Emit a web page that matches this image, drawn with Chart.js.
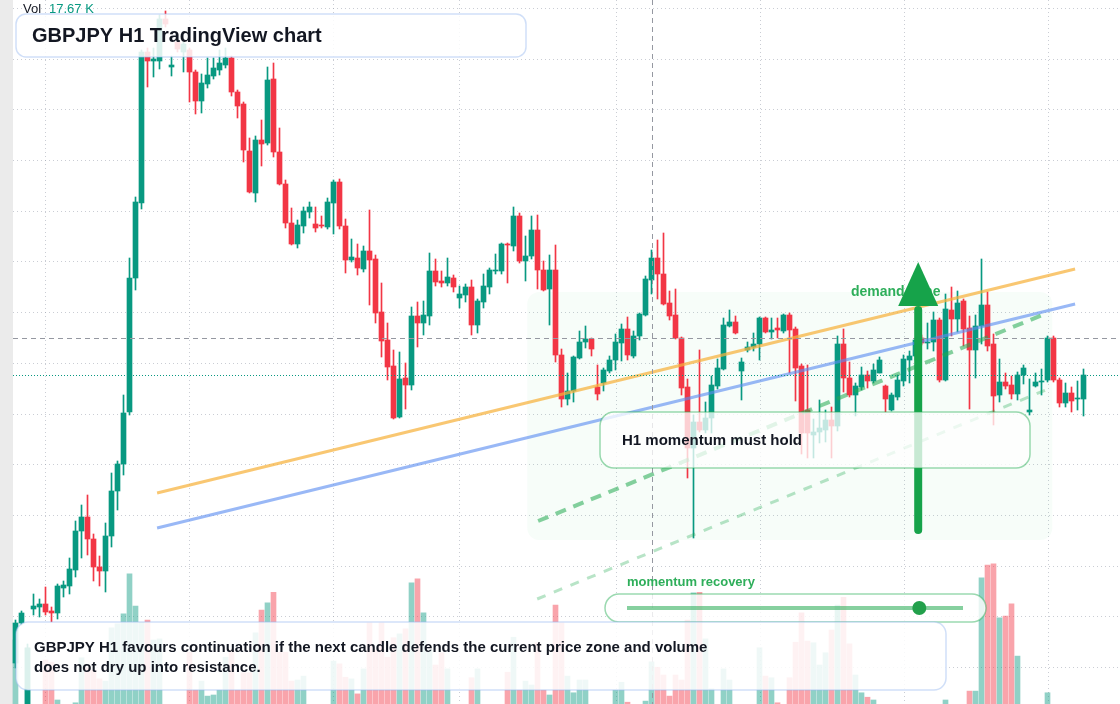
<!DOCTYPE html>
<html>
<head>
<meta charset="utf-8">
<title>GBPJPY H1 TradingView chart</title>
<script src="https://cdn.jsdelivr.net/npm/chart.js@4.4.1/dist/chart.umd.min.js"></script>
<style>
  html, body { margin: 0; padding: 0; background: #ffffff; }
  #wrap { position: relative; width: 1120px; height: 704px; overflow: hidden; }
</style>
</head>
<body>
<div id="wrap"><canvas id="gbpjpy" width="1120" height="704"></canvas></div>
<script>
"use strict";

// H1 candles, oldest first
var openPrices = [
  198.37, 198.77, 197.88, 198.91, 198.93, 198.96, 198.89, 198.87, 199.12, 199.14,
  199.30, 199.69, 199.83, 199.61, 199.33, 199.29, 199.64, 200.09, 200.36, 200.88,
  202.22, 202.97, 204.48, 204.39, 204.39, 204.81, 204.33, 204.58, 204.48, 204.50,
  204.28, 203.99, 204.16, 204.24, 204.30, 204.35, 204.42, 204.08, 203.96, 203.49,
  203.07, 203.60, 203.57, 204.21, 203.48, 203.16, 202.77, 202.56, 202.74, 202.88,
  202.76, 202.75, 202.73, 202.97, 203.18, 202.74, 202.40, 202.42, 202.31, 202.49,
  202.41, 201.88, 201.60, 201.34, 200.83, 201.22, 201.15, 201.84, 201.77, 201.84,
  202.29, 202.19, 202.17, 202.22, 202.02, 202.05, 202.13, 201.75, 201.98, 202.13,
  202.29, 202.29, 202.56, 202.54, 202.84, 202.39, 202.44, 202.70, 202.30, 202.11,
  202.30, 201.45, 201.01, 201.09, 201.42, 201.58, 201.61, 201.13, 201.17, 201.29,
  201.40, 201.57, 201.71, 201.44, 201.64, 201.85, 202.20, 202.42, 202.26, 201.97,
  201.85, 201.62, 201.13, 200.52, 200.78, 200.70, 200.82, 201.14, 201.31, 201.74,
  201.78, 201.29, 201.50, 201.53, 201.56, 201.82, 201.68, 201.72, 201.69, 201.85,
  201.71, 201.34, 200.90, 200.65, 200.68, 200.70, 200.80, 200.74, 201.56, 201.22,
  201.05, 201.13, 201.25, 201.19, 201.27, 201.14, 200.90, 201.03, 201.19, 201.40,
  201.44, 201.62, 201.57, 201.58, 201.80, 201.20, 201.90, 201.81, 201.99, 201.72,
  201.50, 201.74, 201.95, 201.56, 201.05, 201.18, 201.15, 201.06, 201.25, 200.88,
  201.14, 201.18, 201.20, 201.62, 201.20, 200.97, 201.07, 201.01, 201.01
];
var highPrices = [
  198.80, 198.89, 198.56, 199.06, 199.01, 199.13, 198.93, 199.16, 199.19, 199.42,
  199.79, 199.95, 200.05, 199.66, 199.44, 199.77, 200.27, 200.39, 201.05, 202.42,
  203.03, 204.50, 204.52, 204.52, 204.85, 204.89, 204.44, 204.60, 204.60, 204.52,
  204.30, 204.26, 204.42, 204.42, 204.50, 204.52, 204.44, 204.10, 203.98, 203.62,
  203.64, 203.80, 204.33, 204.37, 203.72, 203.20, 202.92, 202.80, 202.93, 202.98,
  202.93, 202.84, 203.02, 203.20, 203.21, 202.81, 202.61, 202.56, 202.54, 202.90,
  202.45, 202.17, 201.77, 201.50, 201.48, 201.37, 201.93, 201.98, 201.99, 202.47,
  202.41, 202.29, 202.42, 202.25, 202.14, 202.16, 202.20, 202.01, 202.26, 202.32,
  202.46, 202.57, 202.57, 202.93, 202.87, 202.64, 202.84, 202.85, 202.39, 202.45,
  202.55, 201.51, 201.27, 201.44, 201.69, 201.74, 201.62, 201.35, 201.32, 201.44,
  201.66, 201.76, 201.83, 201.69, 201.87, 202.24, 202.50, 202.60, 202.67, 202.09,
  202.11, 201.63, 201.21, 200.85, 201.50, 200.98, 201.24, 201.41, 201.82, 201.90,
  201.84, 201.42, 201.58, 201.67, 201.83, 201.83, 201.82, 201.82, 201.86, 201.87,
  201.73, 201.36, 201.35, 200.81, 201.00, 200.90, 200.93, 201.64, 201.71, 201.38,
  201.17, 201.33, 201.29, 201.36, 201.43, 201.15, 201.07, 201.25, 201.45, 201.49,
  201.62, 201.65, 201.77, 201.88, 201.82, 202.06, 202.13, 202.09, 202.01, 201.84,
  201.85, 202.41, 202.08, 201.66, 201.41, 201.27, 201.24, 201.28, 201.35, 201.21,
  201.27, 201.31, 201.64, 201.64, 201.22, 201.17, 201.13, 201.19, 201.31
];
var lowPrices = [
  198.32, 198.75, 197.84, 198.85, 198.83, 198.85, 198.78, 198.81, 199.03, 199.06,
  199.23, 199.42, 199.45, 199.19, 199.14, 199.08, 199.53, 199.90, 200.25, 200.85,
  202.10, 202.91, 204.13, 204.23, 204.31, 204.73, 204.24, 204.48, 204.28, 203.98,
  203.86, 203.87, 204.12, 204.21, 204.25, 204.32, 204.04, 203.82, 203.38, 203.07,
  202.98, 203.34, 203.55, 203.43, 203.15, 202.72, 202.55, 202.52, 202.67, 202.82,
  202.68, 202.72, 202.71, 202.66, 202.71, 202.27, 202.38, 202.25, 202.28, 201.95,
  201.77, 201.43, 201.20, 200.81, 200.82, 200.91, 201.10, 201.53, 201.65, 201.75,
  202.14, 202.13, 202.14, 202.08, 201.92, 201.98, 201.65, 201.67, 201.92, 202.06,
  202.26, 202.26, 202.17, 202.49, 202.37, 202.19, 202.41, 202.11, 202.09, 201.75,
  201.38, 200.93, 200.95, 200.98, 201.41, 201.52, 201.44, 201.00, 201.09, 201.27,
  201.30, 201.39, 201.40, 201.42, 201.60, 201.84, 202.06, 202.01, 201.95, 201.80,
  201.61, 201.05, 200.22, 199.62, 200.68, 200.67, 200.67, 201.11, 201.30, 201.73,
  201.66, 201.00, 201.48, 201.49, 201.40, 201.67, 201.61, 201.62, 201.67, 201.27,
  200.99, 200.46, 200.42, 200.42, 200.57, 200.58, 200.42, 200.69, 201.08, 201.03,
  200.84, 201.10, 201.12, 201.17, 201.27, 200.88, 200.89, 201.00, 201.14, 201.17,
  201.40, 201.55, 201.51, 201.49, 201.18, 201.19, 201.64, 201.68, 201.54, 200.91,
  201.22, 201.56, 201.49, 200.75, 200.98, 201.11, 201.01, 201.00, 201.16, 200.85,
  201.13, 201.05, 201.18, 201.18, 200.93, 200.93, 200.88, 200.90, 200.84
];
var closePrices = [
  198.77, 198.87, 198.52, 198.94, 198.96, 198.88, 198.87, 199.14, 199.15, 199.31,
  199.69, 199.83, 199.61, 199.33, 199.29, 199.64, 200.09, 200.36, 200.87, 202.22,
  202.98, 204.48, 204.39, 204.41, 204.81, 204.76, 204.35, 204.51, 204.56, 204.28,
  203.99, 204.17, 204.25, 204.32, 204.37, 204.42, 204.08, 203.94, 203.50, 203.08,
  203.60, 203.56, 204.20, 203.48, 203.16, 202.77, 202.56, 202.75, 202.89, 202.93,
  202.72, 202.74, 202.98, 203.18, 202.74, 202.40, 202.43, 202.32, 202.49, 202.40,
  201.87, 201.59, 201.33, 200.82, 201.21, 201.15, 201.84, 201.77, 201.85, 202.29,
  202.18, 202.17, 202.23, 202.13, 202.06, 202.13, 201.75, 201.99, 202.14, 202.30,
  202.30, 202.56, 202.55, 202.84, 202.39, 202.44, 202.70, 202.30, 202.10, 202.30,
  201.45, 201.01, 201.09, 201.43, 201.58, 201.61, 201.51, 201.06, 201.30, 201.40,
  201.58, 201.71, 201.45, 201.64, 201.86, 202.21, 202.42, 202.26, 201.96, 201.84,
  201.62, 201.12, 200.52, 200.78, 200.70, 200.82, 201.15, 201.32, 201.75, 201.78,
  201.67, 201.38, 201.53, 201.56, 201.82, 201.68, 201.70, 201.70, 201.85, 201.70,
  201.32, 200.67, 200.67, 200.68, 200.72, 200.80, 200.74, 201.56, 201.22, 201.05,
  201.14, 201.25, 201.19, 201.30, 201.40, 201.01, 201.05, 201.20, 201.41, 201.44,
  201.60, 201.57, 201.58, 201.80, 201.20, 201.91, 201.81, 201.97, 201.71, 201.50,
  201.74, 201.95, 201.54, 201.04, 201.18, 201.14, 201.06, 201.25, 201.32, 200.90,
  201.18, 201.19, 201.62, 201.20, 200.97, 201.07, 200.99, 201.02, 201.25
];
// volume in thousands
var volumeK = [
  21.6, 7.2, 20.2, 6.3, 5.4, 18.0, 17.6, 10.8, 7.2, 8.6,
  10.3, 18.4, 16.6, 16.2, 14.6, 14.2, 23.8, 24.5, 26.3, 33.5,
  27.7, 24.8, 25.2, 21.6, 21.8, 7.2, 8.1, 9.0, 9.4, 19.4,
  12.6, 14.2, 11.5, 11.7, 12.6, 18.5, 19.8, 12.6, 15.7, 15.7,
  22.9, 27.0, 28.3, 30.2, 19.4, 19.4, 14.2, 14.4, 15.1, 8.1,
  7.2, 7.6, 8.6, 17.8, 17.3, 14.9, 14.6, 11.9, 16.4, 24.7,
  19.8, 24.7, 18.5, 22.0, 22.7, 23.6, 31.9, 32.6, 26.5, 19.8,
  17.1, 19.3, 16.4, 8.6, 8.1, 8.6, 14.8, 16.4, 7.2, 7.9,
  6.3, 8.6, 15.8, 22.1, 12.6, 14.2, 13.5, 21.1, 12.6, 11.7,
  27.9, 24.7, 15.1, 12.1, 14.4, 14.4, 8.6, 7.9, 7.2, 9.0,
  12.6, 14.0, 10.4, 8.1, 8.6, 10.6, 17.67, 16.7, 15.3, 11.5,
  15.3, 14.4, 25.2, 30.1, 30.2, 21.8, 12.8, 8.6, 16.4, 14.4,
  7.6, 8.3, 7.2, 8.6, 20.2, 15.1, 14.8, 10.3, 8.6, 14.8,
  21.2, 26.5, 21.4, 21.1, 17.1, 19.3, 23.4, 27.9, 29.3, 20.9,
  15.3, 12.1, 11.3, 10.8, 7.9, 7.2, 6.3, 8.3, 7.6, 6.8,
  8.6, 5.8, 7.9, 8.5, 7.4, 10.8, 8.3, 7.2, 8.6, 12.4,
  12.4, 32.8, 35.1, 35.3, 25.6, 25.9, 28.1, 18.7, 7.9, 7.2,
  8.6, 7.6, 12.1, 8.3, 7.2, 7.9, 6.5, 8.5, 7.6
];

// horizontal and vertical grid positions (price levels / bar indices)
var gridPrices = [204.92, 204.41, 203.91, 203.40, 202.89, 202.39, 201.88, 201.37, 200.86, 200.36, 199.85, 199.34, 198.84, 198.33];
var gridBars = [5, 29, 53, 74, 100, 124, 148, 172];

// drawings: [barFrom, priceFrom, barTo, priceTo]
var upperChannel = [23.6, 200.07, 176.6, 202.31];
var lowerChannel = [23.6, 199.72, 176.6, 201.96];
var supportDash = [87.1, 199.79, 171.95, 201.87];
var recoveryDash = [86.95, 199.01, 172.1, 201.11];
var demandZone = [85.3, 202.08, 172.8, 199.60];
var arrowBar = 150.45, arrowFrom = 199.70, arrowNeck = 201.94, arrowTip = 202.38;
var crossBar = 106, crossPrice = 201.62;
var sliderPos = 0.87;

var upColor = "#089981", downColor = "#F23645";

var isUp = function(i) { return closePrices[i] >= openPrices[i]; };

var wickData = [], bodyData = [], volData = [];
for (var i = 0; i < openPrices.length; i++) {
  wickData.push({ x: i, y: [lowPrices[i], highPrices[i]] });
  bodyData.push({ x: i, y: [openPrices[i], closePrices[i]] });
  volData.push({ x: i, y: volumeK[i] });
}
var candleColors = openPrices.map(function(o, i) { return isUp(i) ? upColor : downColor; });
var volColors = openPrices.map(function(o, i) { return isUp(i) ? "rgba(8,153,129,0.45)" : "rgba(242,54,69,0.45)"; });

var font = '"Liberation Sans", Arial, sans-serif';

var line = function(ctx, xs, ys, seg, color, width, dash) {
  ctx.save();
  ctx.strokeStyle = color;
  ctx.lineWidth = width;
  ctx.setLineDash(dash || []);
  ctx.beginPath();
  ctx.moveTo(xs.getPixelForValue(seg[0]), ys.getPixelForValue(seg[1]));
  ctx.lineTo(xs.getPixelForValue(seg[2]), ys.getPixelForValue(seg[3]));
  ctx.stroke();
  ctx.restore();
};

var box = function(ctx, x, y, w, h, r, fill, stroke, lw) {
  ctx.beginPath();
  ctx.roundRect(x, y, w, h, r);
  ctx.fillStyle = fill;
  ctx.fill();
  ctx.lineWidth = lw;
  ctx.strokeStyle = stroke;
  ctx.stroke();
};

var overlay = {
  id: "overlay",
  beforeDatasetsDraw: function(chart) {
    var ctx = chart.ctx, xs = chart.scales.x, ys = chart.scales.y, a = chart.chartArea;
    ctx.save();
    ctx.fillStyle = "#ebebeb";
    ctx.fillRect(0, 0, 13, a.bottom);

    ctx.strokeStyle = "rgba(150,156,170,0.5)";
    ctx.lineWidth = 1;
    ctx.setLineDash([1, 3]);
    gridPrices.forEach(function(p) {
      var py = Math.round(ys.getPixelForValue(p)) + 0.5;
      ctx.beginPath(); ctx.moveTo(13, py); ctx.lineTo(a.right, py); ctx.stroke();
    });
    gridBars.forEach(function(b) {
      var px = Math.round(xs.getPixelForValue(b)) + 0.5;
      ctx.beginPath(); ctx.moveTo(px, 0); ctx.lineTo(px, a.bottom); ctx.stroke();
    });
    ctx.setLineDash([]);

    // demand zone
    var zx = xs.getPixelForValue(demandZone[0]), zy = ys.getPixelForValue(demandZone[1]);
    var zw = xs.getPixelForValue(demandZone[2]) - zx, zh = ys.getPixelForValue(demandZone[3]) - zy;
    ctx.beginPath();
    ctx.roundRect(zx, zy, zw, zh, 12);
    ctx.fillStyle = "rgba(34,197,94,0.035)";
    ctx.fill();
    ctx.restore();
  },
  afterDatasetsDraw: function(chart) {
    var ctx = chart.ctx, xs = chart.scales.x, ys = chart.scales.y, a = chart.chartArea;

    line(ctx, xs, ys, upperChannel, "rgba(246,178,60,0.72)", 3);
    line(ctx, xs, ys, lowerChannel, "rgba(90,140,240,0.62)", 3);
    line(ctx, xs, ys, supportDash, "rgba(34,170,80,0.55)", 4, [11, 8]);
    line(ctx, xs, ys, recoveryDash, "rgba(34,170,80,0.32)", 3, [9, 9]);

    ctx.save();
    // last price and crosshair
    var lp = Math.round(ys.getPixelForValue(closePrices[closePrices.length - 1])) + 0.5;
    ctx.strokeStyle = upColor; ctx.lineWidth = 1; ctx.setLineDash([1, 2]);
    ctx.beginPath(); ctx.moveTo(13, lp); ctx.lineTo(a.right, lp); ctx.stroke();
    var cy = Math.round(ys.getPixelForValue(crossPrice)) + 0.5;
    var cx = Math.round(xs.getPixelForValue(crossBar)) + 0.5;
    ctx.strokeStyle = "#9598a1"; ctx.setLineDash([5, 4]);
    ctx.beginPath(); ctx.moveTo(13, cy); ctx.lineTo(a.right, cy); ctx.stroke();
    ctx.beginPath(); ctx.moveTo(cx, 0); ctx.lineTo(cx, a.bottom); ctx.stroke();
    ctx.setLineDash([]);

    // demand zone label + arrow
    ctx.font = "bold 14px " + font;
    ctx.textBaseline = "middle";
    ctx.fillStyle = "#2eae5a";
    ctx.fillText("demand zone", 851, ys.getPixelForValue(demandZone[1]));

    var ax = xs.getPixelForValue(arrowBar);
    ctx.strokeStyle = "#16a34a"; ctx.fillStyle = "#16a34a";
    ctx.lineWidth = 8; ctx.lineCap = "round";
    ctx.beginPath();
    ctx.moveTo(ax, ys.getPixelForValue(arrowFrom));
    ctx.lineTo(ax, ys.getPixelForValue(arrowNeck) + 4);
    ctx.stroke();
    ctx.lineCap = "butt";
    var ny = ys.getPixelForValue(arrowNeck);
    ctx.beginPath();
    ctx.moveTo(ax, ys.getPixelForValue(arrowTip));
    ctx.lineTo(ax + 20, ny);
    ctx.lineTo(ax - 20, ny);
    ctx.closePath();
    ctx.fill();

    // H1 note
    box(ctx, 600, 412, 430, 56, 14, "rgba(255,255,255,0.76)", "rgba(34,170,80,0.45)", 1.5);
    ctx.fillStyle = "#131722";
    ctx.font = "bold 15px " + font;
    ctx.fillText("H1 momentum must hold", 622, 441);

    // momentum slider
    ctx.fillStyle = "#2eae5a";
    ctx.font = "bold 13px " + font;
    ctx.fillText("momentum recovery", 627, 582);
    box(ctx, 605, 594, 381, 28, 14, "rgba(255,255,255,0.8)", "rgba(34,170,80,0.45)", 1.5);
    ctx.strokeStyle = "rgba(34,170,80,0.55)";
    ctx.lineWidth = 4;
    ctx.beginPath(); ctx.moveTo(627, 608); ctx.lineTo(963, 608); ctx.stroke();
    ctx.fillStyle = "#22a04b";
    ctx.beginPath(); ctx.arc(627 + (963 - 627) * sliderPos, 608, 7, 0, Math.PI * 2); ctx.fill();

    // title
    box(ctx, 16, 14, 510, 43, 10, "rgba(255,255,255,0.86)", "rgba(150,185,240,0.45)", 1.5);
    ctx.fillStyle = "#131722";
    ctx.font = "bold 20px " + font;
    ctx.fillText("GBPJPY H1 TradingView chart", 32, 36);

    // summary
    box(ctx, 16, 622, 930, 68, 12, "rgba(255,255,255,0.86)", "rgba(150,185,240,0.45)", 1.5);
    ctx.fillStyle = "#131722";
    ctx.font = "bold 15px " + font;
    ctx.fillText("GBPJPY H1 favours continuation if the next candle defends the current price zone and volume", 34, 648);
    ctx.fillText("does not dry up into resistance.", 34, 668);

    // volume legend
    ctx.font = "13px " + font;
    ctx.fillStyle = "#131722";
    ctx.fillText("Vol", 23, 9);
    ctx.fillStyle = upColor;
    ctx.fillText(volumeK[crossBar].toFixed(2) + " K", 49, 9);
    ctx.restore();
  }
};

new Chart(document.getElementById("gbpjpy"), {
  type: "bar",
  data: {
    datasets: [
      { data: volData, yAxisID: "vol", backgroundColor: volColors, barThickness: 5, grouped: false, order: 3 },
      { data: wickData, yAxisID: "y", backgroundColor: candleColors, barThickness: 1, grouped: false, order: 2 },
      { data: bodyData, yAxisID: "y", backgroundColor: candleColors, barThickness: 5, grouped: false, order: 1 }
    ]
  },
  options: {
    responsive: false,
    animation: false,
    events: [],
    layout: { padding: 0 },
    plugins: { legend: false, tooltip: false },
    scales: {
      x: { type: "linear", display: false, offset: false, grid: { offset: false }, min: -2.5833, max: 184.0833 },
      y: { type: "linear", display: false, min: 197.96, max: 205.00 },
      vol: { type: "linear", display: false, min: 10.08, max: 136.8 }
    }
  },
  plugins: [overlay]
});
</script>
</body>
</html>
